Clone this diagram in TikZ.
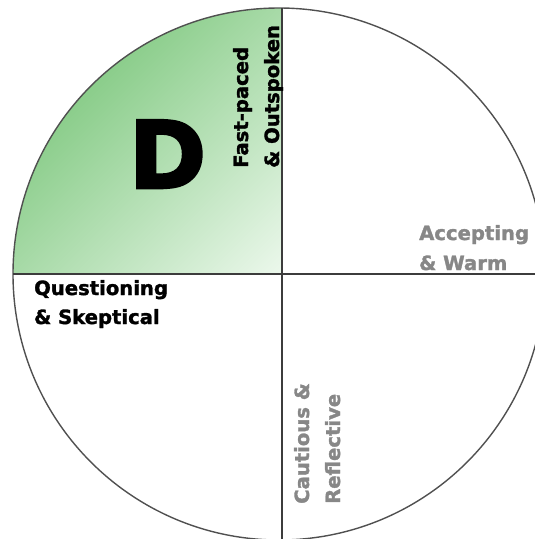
\documentclass[tikz,border=0pt]{standalone}
\usepackage{fontspec}
\setmainfont{DejaVu Sans}
\newfontfamily\heavyfont[FakeBold=1.6]{DejaVu Sans Bold}
\newfontfamily\blackfont[FakeBold=3]{DejaVu Sans Bold}
\definecolor{greendark}{RGB}{138,205,138}
\definecolor{greenlight}{RGB}{236,248,236}
\definecolor{linegray}{RGB}{60,60,60}
\definecolor{circgray}{RGB}{80,80,80}
\definecolor{txtgray}{RGB}{135,135,135}
\tikzset{
  circline/.style={draw=circgray, line width=1.4pt},
  axisline/.style={draw=linegray, line width=1.8pt},
  lbl/.style={inner sep=0pt, font=\heavyfont\fontsize{19.6}{20}\selectfont},
  darklbl/.style={lbl, text=black},
  graylbl/.style={lbl, text=txtgray},
  uplbl/.style={rotate=90, anchor=base west},
  flatlbl/.style={anchor=base west},
  biglbl/.style={inner sep=0pt, anchor=base, font=\blackfont\fontsize{93}{93}\selectfont, text=black}
}
\begin{document}
\begin{tikzpicture}[x=1pt,y=-1pt]
\useasboundingbox (0,0) rectangle (535,539);
\clip (0,0) rectangle (535,539);
\coordinate (O) at (279,274);
\coordinate (C) at (282,274);
\coordinate (vtop) at (282,8);
\coordinate (vbot) at (282,545);
\coordinate (hleft) at (13,274);
\coordinate (hright) at (545,274);
% shaded quadrant
\begin{scope}
  \clip (O) circle (266);
  \clip (0,0) rectangle (C);
  \shade[transform canvas={rotate around={45:(C)}}, top color=greendark, bottom color=greenlight]
    (-140,4) rectangle (702,274);
\end{scope}
\draw[circline] (O) circle (266);
\draw[axisline] (vtop) -- (vbot);
\draw[axisline] (hleft) -- (hright);
% labels
\node[biglbl] (D) at (167.5,188) {D};
\node[darklbl, uplbl] (fast) at (248,168) {Fast-paced};
\node[darklbl, uplbl] (outs) at (279,168) {\& Outspoken};
\node[darklbl, flatlbl] (quest) at (34,295) {Questioning};
\node[darklbl, flatlbl] (skep) at (34,324) {\& Skeptical};
\node[graylbl, flatlbl] (acc) at (419,240) {Accepting};
\node[graylbl, flatlbl] (warm) at (419,270) {\& Warm};
\node[graylbl, uplbl] (caut) at (309,504) {Cautious \&};
\node[graylbl, uplbl] (refl) at (340,504) {Reflective};
\end{tikzpicture}
\end{document}
